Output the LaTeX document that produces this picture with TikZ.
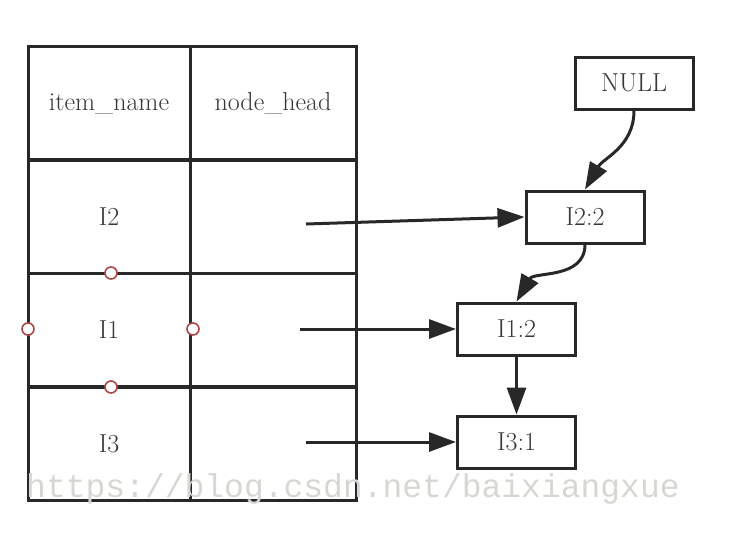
\documentclass[tikz,border=0pt]{standalone}
\usepackage{fontspec}
\newfontfamily\wmfont{Liberation Mono}
\usetikzlibrary{arrows.meta}
\definecolor{ink}{RGB}{40,40,40}
\definecolor{txt}{RGB}{55,55,55}
\definecolor{dotred}{RGB}{175,70,70}
\definecolor{wm}{RGB}{215,215,210}
\begin{document}
\begin{tikzpicture}[x=1pt,y=-1pt,
  cell/.style={draw=ink,line width=3pt,minimum width=#1,minimum height=113.5pt,inner sep=0pt,font=\rmfamily\fontsize{26}{30}\selectfont,text=txt},
  cell/.default=162pt,
  box/.style={draw=ink,line width=3pt,minimum width=118pt,minimum height=52pt,inner sep=0pt,font=\rmfamily\fontsize{26}{30}\selectfont,text=txt},
  link/.style={draw=ink,line width=3pt,-{Triangle[length=27pt,width=19pt]}},
  port/.style={circle,draw=dotred,fill=white,line width=1.6pt,minimum size=12pt,inner sep=0pt}]
\useasboundingbox (0,0) rectangle (730,544);
% table
\node[cell=162pt] (h1) at (109,103.5) {item\_name};
\node[cell=166pt] (h2) at (273,103.5) {node\_head};
\node[cell=162pt] (r1a) at (109,216.5) {I2};
\node[cell=166pt] (r1b) at (273,216.5) {};
\node[cell=162pt] (r2a) at (109,330) {I1};
\node[cell=166pt] (r2b) at (273,330) {};
\node[cell=162pt] (r3a) at (109,444) {I3};
\node[cell=166pt] (r3b) at (273,444) {};
% boxes
\node[box] (null) at (634,83) {NULL};
\node[box] (i22) at (585,217) {I2:2};
\node[box] (i12) at (516.5,329) {I1:2};
\node[box] (i31) at (516.5,442) {I3:1};
% arrow starts
\coordinate (s1) at (306,224);
\coordinate (s2) at (300,329);
\coordinate (s3) at (306,442);
\draw[link] (s1) -- (i22.west);
\draw[link] (s2) -- (i12.west);
\draw[link] (s3) -- (i31.west);
\draw[link] (null.south) to[out=-90,in=60] (i22.north);
\draw[link] (i22.south) to[out=-90,in=60] (i12.north);
\draw[link] (i12.south) -- (i31.north);
% ports
\node[port] (p1) at (111,273) {};
\node[port] (p2) at (28,329) {};
\node[port] (p3) at (193,329) {};
\node[port] (p4) at (111,387) {};
% watermark
\node[anchor=base west,inner sep=0pt,text=wm,font=\wmfont\fontsize{33}{36}\selectfont] (wmark) at (26,497) {https://blog.csdn.net/baixiangxue};
\end{tikzpicture}
\end{document}
